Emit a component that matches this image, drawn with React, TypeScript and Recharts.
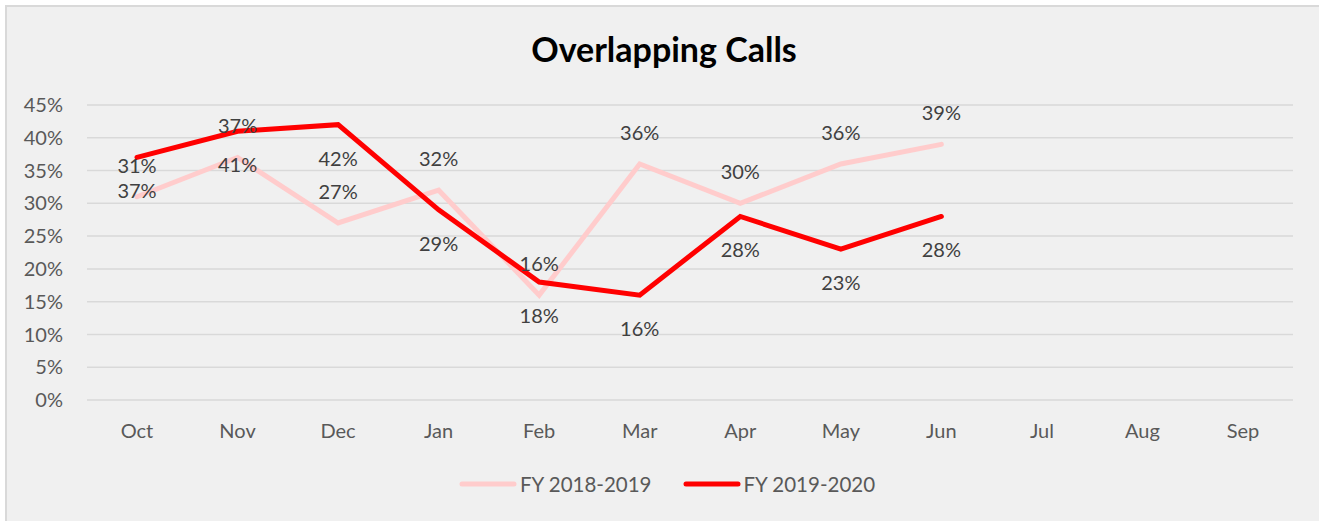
import React from 'react';
import { LineChart, Line, XAxis, YAxis, CartesianGrid, Legend, LabelList } from 'recharts';

const months = ['Oct', 'Nov', 'Dec', 'Jan', 'Feb', 'Mar', 'Apr', 'May', 'Jun', 'Jul', 'Aug', 'Sep'];
const fy1819 = [31, 37, 27, 32, 16, 36, 30, 36, 39, null, null, null];
const fy1920 = [37, 41, 42, 29, 18, 16, 28, 23, 28, null, null, null];
const yTicks = [0, 5, 10, 15, 20, 25, 30, 35, 40, 45];

const seriesNames = { a: 'FY 2018-2019', b: 'FY 2019-2020' };
const colors = { a: '#FFCCCC', b: '#FF0000' };

const data = months.map((m, i) => ({ month: m, a: fy1819[i], b: fy1920[i] }));

const FONT = 'Lato, "Open Sans", sans-serif';

// labels sit above the light line and below the red one, like the excel chart
const makeLabel = (dy: number) => (props: any) => {
  const { x, y, value } = props;
  if (value === null || value === undefined) return null;
  return (
    <text x={x} y={y + dy} textAnchor="middle" dominantBaseline="central" fill="#404040" fontSize={20} fontFamily={FONT}>
      {value}%
    </text>
  );
};

const LegendContent = () => (
  <div style={{ height: 50, display: 'flex', justifyContent: 'center', alignItems: 'center', fontFamily: FONT, fontSize: 20.5, color: '#595959', paddingLeft: 14 }}>
    {(['a', 'b'] as const).map((k, i) => (
      <div key={k} style={{ display: 'flex', alignItems: 'center', marginLeft: i ? 31 : 0 }}>
        <svg width={58} height={10} style={{ marginRight: 3 }}>
          <line x1={3} y1={5} x2={55} y2={5} stroke={colors[k]} strokeWidth={5} strokeLinecap="round" />
        </svg>
        <span>{seriesNames[k]}</span>
      </div>
    ))}
  </div>
);

export default function App() {
  return (
    <div style={{ position: 'fixed', left: 0, top: 0, width: 1319, height: 521, overflow: 'hidden', background: '#fff' }}>
      <div style={{ position: 'absolute', left: 5, top: 5, width: 1340, height: 540, border: '2px solid #d9d9d9', background: '#f0f0f0' }} />
      <div style={{ position: 'absolute', left: 0, width: 1328, top: 29, textAlign: 'center', fontFamily: FONT, fontWeight: 700, fontSize: 34, color: '#000', lineHeight: '40px' }}>
        Overlapping Calls
      </div>
      <div style={{ position: 'absolute', left: 0, top: 0 }}>
        <LineChart width={1319} height={521} data={data} margin={{ top: 105, right: 26, bottom: 12, left: 27 }}>
          <CartesianGrid horizontal vertical={false} stroke="#d9d9d9" strokeWidth={1.5} />
          <XAxis
            dataKey="month"
            axisLine={false}
            tickLine={false}
            height={59}
            tickMargin={18}
            padding={{ left: 50, right: 50 }}
            tick={{ fill: '#595959', fontSize: 20, fontFamily: FONT }}
          />
          <YAxis
            domain={[0, 45]}
            ticks={yTicks}
            interval={0}
            width={60}
            axisLine={false}
            tickLine={false}
            tickMargin={18}
            tickFormatter={(v: number) => `${v}%`}
            tick={{ fill: '#595959', fontSize: 20, fontFamily: FONT }}
          />
          <Legend verticalAlign="bottom" content={<LegendContent />} />
          <Line
            dataKey="a"
            name={seriesNames.a}
            stroke={colors.a}
            strokeWidth={5}
            strokeLinecap="round"
            dot={false}
            activeDot={false}
            isAnimationActive={false}
          >
            <LabelList dataKey="a" content={makeLabel(-32)} />
          </Line>
          <Line
            dataKey="b"
            name={seriesNames.b}
            stroke={colors.b}
            strokeWidth={5}
            strokeLinecap="round"
            dot={false}
            activeDot={false}
            isAnimationActive={false}
          >
            <LabelList dataKey="b" content={makeLabel(33)} />
          </Line>
        </LineChart>
      </div>
    </div>
  );
}
